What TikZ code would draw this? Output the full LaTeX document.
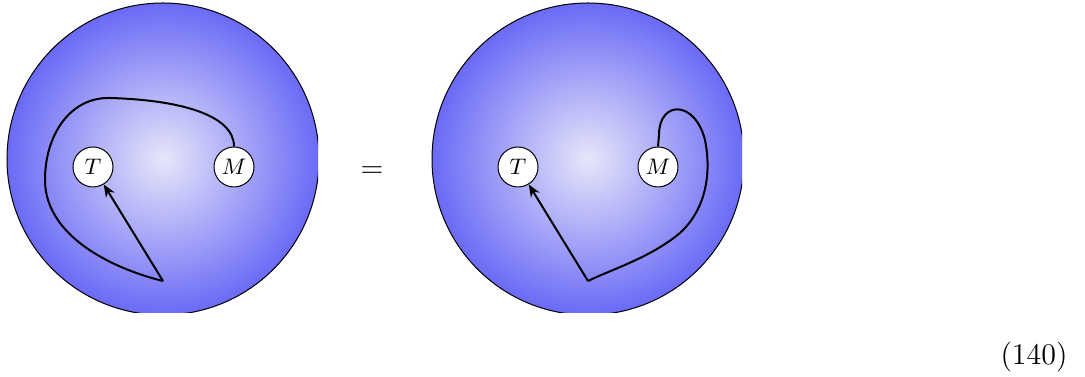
\documentclass[tikz,border=0pt]{standalone}
\usepackage{amsmath}
\usepackage{xcolor}
\usepackage{tikz}
\usetikzlibrary{arrows.meta, positioning}
\definecolor{discblue}{HTML}{6A6AF6}
\definecolor{disccore}{HTML}{E6E6FA}

\begin{document}
\begin{tikzpicture}[
    x=0.4pt, y=-0.4pt,
    disc/.style={
        circle, draw=black, thin,
        inner color=disccore, outer color=discblue,
        minimum size=124.8pt, inner sep=0pt
    },
    pole/.style={
        circle, draw=black, thin, fill=white,
        minimum size=16pt, inner sep=0pt, font=\small
    },
    strand/.style={thick, line join=round},
    arrow/.style={-{Stealth[length=5pt, width=4pt]}, thick}
]
\useasboundingbox (0,0) rectangle (1085,377);

\begin{scope}
\clip (0,0) rectangle (318,313);
\node[disc] (d1) at (163,159) {};
\end{scope}
\begin{scope}
\clip (420,0) rectangle (742,313);
\node[disc] (d2) at (588,159) {};
\end{scope}

\node[pole] (t1) at (93,167) {$T$};
\node[pole] (m1) at (234,167) {$M$};
\node[pole] (t2) at (518,167) {$T$};
\node[pole] (m2) at (658,167) {$M$};

\coordinate (k1) at (163,281);
\coordinate (k2) at (588,281);

\draw[strand] (m1.north) .. controls (234,115) and (180,100) .. (110,98)
    .. controls (70,97) and (45,135) .. (45,180)
    .. controls (45,235) and (110,268) .. (k1);
\draw[arrow] (k1) -- (t1);

\draw[strand] (m2.north) -- (659,135) .. controls (659,100) and (695,100) .. (705,140)
    .. controls (712,175) and (705,210) .. (680,233)
    .. controls (650,258) and (610,270) .. (k2);
\draw[arrow] (k2) -- (t2);

\node[font=\large] (eq) at (372,172) {$=$};
\node[font=\large] (num) at (1034,357) {(140)};
\end{tikzpicture}
\end{document}
